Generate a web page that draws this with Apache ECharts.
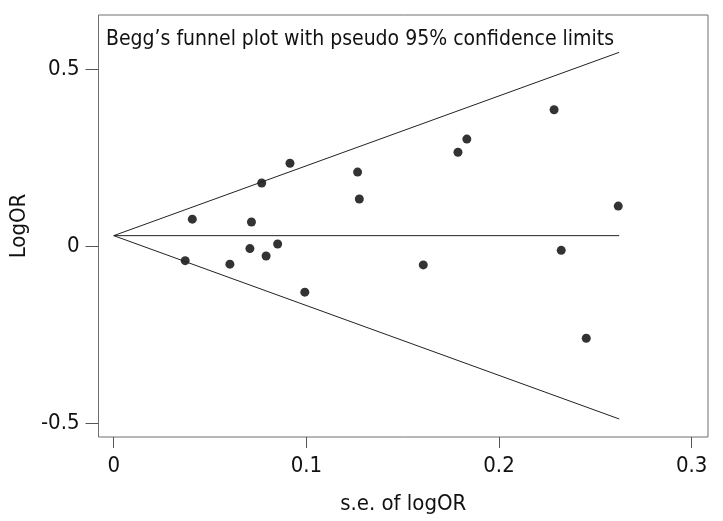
<!DOCTYPE html>
<html>
<head>
<meta charset="utf-8">
<script src="https://cdn.jsdelivr.net/npm/echarts@6/dist/echarts.min.js"></script>
<style>
html,body{margin:0;padding:0;background:#fff;}
#chart{width:723px;height:521px;}
</style>
</head>
<body>
<div id="chart"></div>
<script>
// Study points (standard error of logOR, logOR)
var seValues = [0.0371, 0.0408, 0.0603, 0.0707, 0.0715, 0.0768, 0.0791, 0.0851, 0.0915, 0.0992,
                0.1266, 0.1275, 0.1607, 0.1787, 0.1833, 0.2286, 0.2323, 0.2453, 0.2619];
var logORValues = [-0.040, 0.077, -0.050, -0.006, 0.069, 0.179, -0.027, 0.007, 0.235, -0.129,
                   0.210, 0.134, -0.052, 0.266, 0.303, 0.386, -0.011, -0.259, 0.114];
// Funnel (pseudo 95% confidence limits) and pooled estimate
var funnelSE = [0, 0.2624];
var upperLimit = [0.0305, 0.548];
var lowerLimit = [0.0305, -0.487];
var pooledLine = [0.0305, 0.0305];
// Axis ticks
var xTicks = [0, 0.1, 0.2, 0.3];
var yTicks = [-0.5, 0, 0.5];
var xRange = [-0.0079, 0.3085];
var yRange = [-0.5379, 0.6534];

var FONT = '"Liberation Sans Narrow", "DejaVu Sans Condensed", "Arial Narrow", sans-serif';

function pairs(xs, ys) {
  return xs.map(function (x, i) { return [x, ys[i]]; });
}

var chart = echarts.init(document.getElementById('chart'), null, {renderer: 'canvas'});
chart.setOption({
  animation: false,
  backgroundColor: '#fff',
  title: {
    text: 'Begg\u2019s funnel plot with pseudo 95% confidence limits',
    left: 106,
    top: 29,
    padding: 0,
    textStyle: {fontFamily: FONT, fontSize: 21, fontWeight: 'normal', color: '#111'}
  },
  grid: {
    left: 96, right: 15, top: 15, bottom: 84,
    show: true, borderColor: '#6e6e6e', borderWidth: 1, backgroundColor: 'transparent'
  },
  xAxis: {
    type: 'value',
    min: xRange[0], max: xRange[1],
    name: 's.e. of logOR',
    nameLocation: 'middle',
    nameGap: 56,
    nameTextStyle: {fontFamily: FONT, fontSize: 22, color: '#111'},
    axisLine: {show: false, onZero: false},
    splitLine: {show: false},
    axisTick: {show: true, length: 11, customValues: xTicks, lineStyle: {color: '#555', width: 1}},
    axisLabel: {customValues: xTicks, margin: 18, fontFamily: FONT, fontSize: 22, color: '#111',
      formatter: function (v) { return String(v); }}
  },
  yAxis: {
    type: 'value',
    min: yRange[0], max: yRange[1],
    name: 'LogOR',
    nameLocation: 'middle',
    nameGap: 60,
    nameTextStyle: {fontFamily: FONT, fontSize: 22, color: '#111'},
    axisLine: {show: false, onZero: false},
    splitLine: {show: false},
    axisTick: {show: true, length: 13, customValues: yTicks, lineStyle: {color: '#555', width: 1}},
    axisLabel: {customValues: yTicks, margin: 19, fontFamily: FONT, fontSize: 22, color: '#111',
      formatter: function (v) { return String(v); }}
  },
  series: [
    {type: 'line', data: pairs(funnelSE, upperLimit), symbol: 'none', silent: true,
     lineStyle: {color: '#222', width: 1}},
    {type: 'line', data: pairs(funnelSE, lowerLimit), symbol: 'none', silent: true,
     lineStyle: {color: '#222', width: 1}},
    {type: 'line', data: pairs(funnelSE, pooledLine), symbol: 'none', silent: true,
     lineStyle: {color: '#222', width: 1}},
    {type: 'scatter', data: pairs(seValues, logORValues), symbol: 'circle', symbolSize: 9,
     itemStyle: {color: '#000'}}
  ]
});
</script>
</body>
</html>
